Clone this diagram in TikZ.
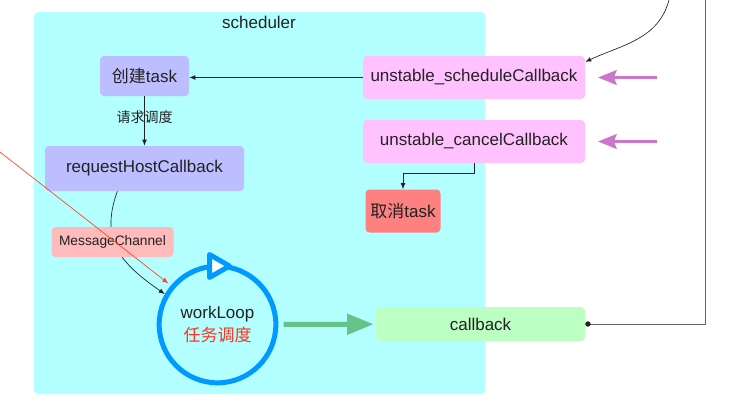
\documentclass[tikz,border=0pt]{standalone}
\usepackage{fontspec}
\setmainfont{Liberation Sans}
\newfontfamily\cjk{Noto Sans CJK SC}
\usetikzlibrary{arrows.meta}
\definecolor{panelcyan}{RGB}{179,255,255}
\definecolor{boxviolet}{RGB}{188,190,255}
\definecolor{boxpink}{RGB}{255,194,255}
\definecolor{boxred}{RGB}{255,128,128}
\definecolor{boxrose}{RGB}{255,187,187}
\definecolor{boxgreen}{RGB}{187,255,194}
\definecolor{loopblue}{RGB}{0,153,255}
\definecolor{textred}{RGB}{255,51,34}
\definecolor{linered}{RGB}{255,68,34}
\definecolor{feedpurple}{RGB}{204,119,204}
\definecolor{flowgreen}{RGB}{102,195,135}
\definecolor{ink}{RGB}{34,34,34}
\tikzset{
  box/.style={rectangle, rounded corners=3pt, inner sep=0pt, text=ink, font=\fontsize{12.75}{15}\selectfont},
  small/.style={text=ink, font=\fontsize{10.5}{12}\selectfont},
  link/.style={draw=ink, line width=0.5pt, -{Latex[length=4.5pt,width=3.5pt]}},
  redlink/.style={draw=linered, line width=0.5pt, -{Latex[length=4.5pt,width=3.5pt]}},
  feed/.style={draw=feedpurple, line width=2.4pt, -{Stealth[length=14pt,width=11pt,inset=2pt]}},
  flow/.style={draw=flowgreen, line width=3.75pt, -{Triangle[length=20pt,width=15pt]}},
  retline/.style={draw=ink!70, line width=0.6pt, {Circle[length=4pt, color=ink]}-},
}
\begin{document}
\begin{tikzpicture}[x=0.75pt, y=-0.75pt]
	\useasboundingbox (0,0) rectangle (734,401);
            \fill[panelcyan, rounded corners=3pt] (34,12) rectangle (485,394);
            \node[box] (sched) at (259,22) {scheduler};

            \node[box, fill=boxviolet, minimum width=66.75pt, minimum height=30pt] (create) at (144.5,76) {{\cjk 创建}task};
            \node[box, fill=boxviolet, minimum width=149.25pt, minimum height=33.75pt] (request) at (144.5,168.5) {requestHostCallback};

            \node[box, fill=boxpink, minimum width=166.5pt, minimum height=32.25pt] (schedcb) at (474,77.5) {unstable\_scheduleCallback};
            \node[box, fill=boxpink, minimum width=166.5pt, minimum height=32.25pt] (cancelcb) at (474,141.5) {unstable\_cancelCallback};
            \node[box, fill=boxred, minimum width=56.25pt, minimum height=32.25pt] (canceltask) at (403,211) {{\cjk 取消}task};
            \node[box, fill=boxgreen, minimum width=156.75pt, minimum height=25.5pt] (callback) at (480.5,324) {callback};

            \node[circle, draw=loopblue, line width=3.75pt, minimum size=87.5pt, inner sep=0pt, align=center, text=ink,
              font=\fontsize{12.75}{17}\selectfont] (workloop) at (217.5,324.5) {workLoop\\\textcolor{textred}{\cjk 任务调度}};
            \draw[loopblue, line width=3.75pt, line join=round, fill=white] (209.5,254.5) -- (229.5,266) -- (209.5,277.5) -- cycle;

            \draw[link] (request.220) to[out=-110, in=145, looseness=1.2] (workloop.150);
            \node[box, fill=boxrose, font=\fontsize{10.3}{12}\selectfont, minimum width=91.5pt, minimum height=22.5pt] (msgchan) at (112.5,242) {MessageChannel};

            \coordinate (redin) at (0,152);
            \draw[redlink, shorten >=2.5pt] (redin) -- (workloop.140);

            \draw[link] (schedcb.west) -- (schedcb.west -| create.east);
            \draw[link] (create) -- node[small, pos=0.42] {\cjk 请求调度} (request);
            \draw[link] (cancelcb.south) -- ++(0,10) -| (canceltask.north);

            \coordinate (schedin) at (657,77.5);
            \coordinate (cancelin) at (657,141.5);
            \foreach \src/\dst in {schedin/schedcb, cancelin/cancelcb}{
              \draw[feed, shorten >=9.5pt] (\src) -- (\dst.east);
            }

            \draw[flow, shorten <=4pt, shorten >=1.5pt] (workloop) -- (callback);

            \coordinate (topin) at (669,0);
            \draw[link] (topin) to[out=-105, in=25] (schedcb.8);
            \coordinate (topright) at (705,0);
            \draw[retline] (callback.east) -| (topright);

          %\node at (217,380) {loop};
        \end{tikzpicture}
\end{document}
